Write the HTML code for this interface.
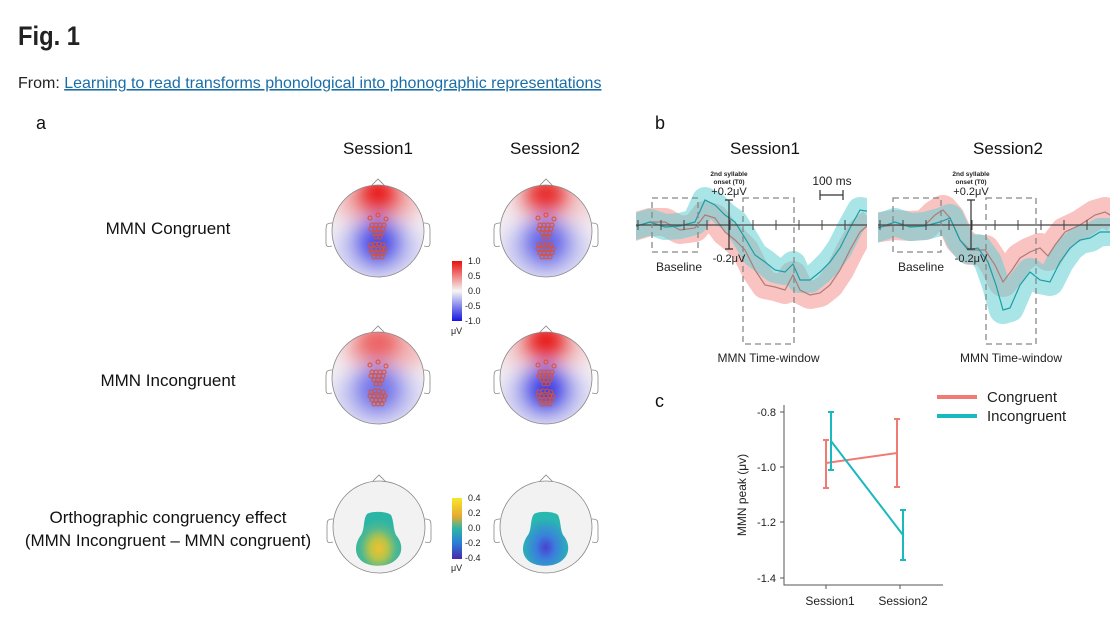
<!DOCTYPE html>
<html><head><meta charset="utf-8"><style>
html,body{margin:0;padding:0;background:#fff;width:1120px;height:624px;overflow:hidden}
text{font-family:"Liberation Sans",sans-serif}
</style></head><body>
<svg id="s" width="1120" height="624" viewBox="0 0 1120 624" xmlns="http://www.w3.org/2000/svg">
<defs>
<filter id="bl" x="-50%" y="-50%" width="200%" height="200%"><feGaussianBlur stdDeviation="9"/></filter>
<radialGradient id="yel" cx="0.5" cy="0.68" r="0.55"><stop offset="0" stop-color="#f0c030"/><stop offset="0.35" stop-color="#b8c448"/><stop offset="0.7" stop-color="#50b890"/><stop offset="1" stop-color="#2ab5a5"/></radialGradient>
<radialGradient id="blu" cx="0.5" cy="0.66" r="0.55"><stop offset="0" stop-color="#4a40d0"/><stop offset="0.4" stop-color="#3a80dc"/><stop offset="1" stop-color="#28b8b0"/></radialGradient>
<linearGradient id="cb1" x1="0" y1="0" x2="0" y2="1"><stop offset="0" stop-color="#e81010"/><stop offset="0.5" stop-color="#f6f6f6"/><stop offset="1" stop-color="#1515e0"/></linearGradient>
<linearGradient id="cb2" x1="0" y1="0" x2="0" y2="1"><stop offset="0" stop-color="#f7e72a"/><stop offset="0.3" stop-color="#e8a830"/><stop offset="0.5" stop-color="#2cb5a6"/><stop offset="0.75" stop-color="#2c7ad8"/><stop offset="1" stop-color="#4a2aa8"/></linearGradient>
<clipPath id="hc"><circle cx="0" cy="0" r="46"/></clipPath>
<clipPath id="c1"><rect x="636" y="150" width="231" height="220"/></clipPath>
<clipPath id="c2"><rect x="878" y="150" width="232" height="220"/></clipPath>
</defs>
<text x="18" y="45" font-size="27" font-weight="bold" fill="#222" textLength="62" lengthAdjust="spacingAndGlyphs">Fig. 1</text>
<text x="18" y="88" font-size="16" fill="#222">From: <tspan fill="#1a6ea8" text-decoration="underline">Learning to read transforms phonological into phonographic representations</tspan></text>
<text x="36" y="129" font-size="18" fill="#111">a</text>
<text x="655" y="129" font-size="18" fill="#111">b</text>
<text x="655" y="407" font-size="18" fill="#111">c</text>
<g font-size="17" fill="#111" text-anchor="middle">
<text x="378" y="154">Session1</text><text x="545" y="154">Session2</text>
<text x="168" y="234">MMN Congruent</text>
<text x="168" y="386">MMN Incongruent</text>
<text x="168" y="523">Orthographic congruency effect</text>
<text x="168" y="546">(MMN Incongruent – MMN congruent)</text>
<text x="765" y="154">Session1</text><text x="1008" y="154">Session2</text>
</g>
<g id="heads"></g>
<rect x="452" y="261" width="10" height="60" fill="url(#cb1)"/>
<g font-size="9" fill="#222"><text x="468" y="264">1.0</text><text x="468" y="279">0.5</text><text x="468" y="294">0.0</text><text x="465" y="309">-0.5</text><text x="465" y="324">-1.0</text><text x="451" y="334">μV</text></g>
<rect x="452" y="498" width="10" height="61" fill="url(#cb2)"/>
<g font-size="9" fill="#222"><text x="468" y="501">0.4</text><text x="468" y="516">0.2</text><text x="468" y="531">0.0</text><text x="465" y="546">-0.2</text><text x="465" y="561">-0.4</text><text x="451" y="571">μV</text></g>
<g id="erp"></g>
<g stroke="#555" stroke-width="1" fill="none">
<path d="M784 405 V585 H943"/>
<path d="M780 412 H784 M780 467 H784 M780 522 H784 M780 578 H784 M826 585 V589 M900 585 V589"/>
</g>
<g font-size="11" fill="#222" text-anchor="end"><text x="776" y="416">-0.8</text><text x="776" y="471">-1.0</text><text x="776" y="526">-1.2</text><text x="776" y="582">-1.4</text></g>
<g font-size="12" fill="#222" text-anchor="middle"><text x="830" y="605">Session1</text><text x="903" y="605">Session2</text></g>
<text transform="translate(746 495) rotate(-90)" font-size="12" fill="#222" text-anchor="middle">MMN peak (μv)</text>
<g stroke="#f07a74" stroke-width="2" fill="none">
<path d="M826 463 L897 453"/><path d="M826 440 V488 M823 440 H829 M823 488 H829 M897 419 V487 M894 419 H900 M894 487 H900"/>
</g>
<g stroke="#1ab8bf" stroke-width="2" fill="none">
<path d="M831 441 L903 535"/><path d="M831 412 V470 M828 412 H834 M828 470 H834 M903 510 V560 M900 510 H906 M900 560 H906"/>
</g>
<path d="M937 397 H977" stroke="#f07a74" stroke-width="4"/>
<path d="M937 416 H977" stroke="#1ab8bf" stroke-width="4"/>
<g font-size="15" fill="#222"><text x="987" y="402">Congruent</text><text x="987" y="421">Incongruent</text></g>
</svg>
<script>
const NS="http://www.w3.org/2000/svg";
function el(p,t,a){const e=document.createElementNS(NS,t);for(const k in a)e.setAttribute(k,a[k]);p.appendChild(e);return e}
const H=document.getElementById('heads');
const elecs=[[0,-16],[-8,-13],[8,-12]];
[[-6,-6],[-2,-6],[2,-6],[6,-6],[-7,-2],[-3,-2],[1,-2],[5,-2],[-4,2],[0,2],[4,2],[-2,6],[2,6]].forEach(p=>elecs.push(p));
[[-7,14],[-3,13],[1,13],[5,14],[-8,18],[-4,18],[0,18],[4,18],[7,18],[-6,22],[-2,22],[2,22],[6,22],[-4,26],[0,26],[4,26]].forEach(p=>elecs.push(p));
function head(cx,cy,type,s){
 const g=el(H,'g',{transform:`translate(${cx} ${cy})`});
 el(g,'path',{d:'M-7 -45 L0 -52 L7 -45',fill:'#fff',stroke:'#888','stroke-width':0.8});
 el(g,'path',{d:'M-46 -8 C-52 -8 -52 -6 -52 0 L-52 12 C-52 16 -50 16 -46 15',fill:'#fff',stroke:'#888','stroke-width':0.8});
 el(g,'path',{d:'M46 -8 C52 -8 52 -6 52 0 L52 12 C52 16 50 16 46 15',fill:'#fff',stroke:'#888','stroke-width':0.8});
 const c=el(g,'g',{'clip-path':'url(#hc)'});
 if(type==='rb'){
  el(c,'rect',{x:-46,y:-46,width:92,height:92,fill:'#f4eef2'});
  const f=el(c,'g',{filter:'url(#bl)'});
  el(f,'ellipse',{cx:s[3]||0,cy:-28,rx:44,ry:22,fill:'#f2b0b0',opacity:s[2]});
  el(f,'ellipse',{cx:0,cy:-36,rx:24,ry:20,fill:'#e81c1c',opacity:s[0]});
  el(f,'ellipse',{cx:0,cy:18,rx:44,ry:32,fill:'#c8c8f2',opacity:0.9});
  el(f,'ellipse',{cx:0,cy:12,rx:24,ry:24,fill:'#3a3ae6',opacity:s[1]});
 } else {
  el(c,'rect',{x:-46,y:-46,width:92,height:92,fill:'#f2f2f2'});
  el(c,'path',{d:'M-12 -13 C-8 -16 8 -16 12 -12 C15 -6 14 2 17 8 C24 16 25 28 14 35 C6 40 -8 40 -16 35 C-26 28 -24 16 -18 8 C-14 2 -16 -8 -12 -13Z',fill:type==='y'?'url(#yel)':'url(#blu)'});
 }
 el(g,'circle',{cx:0,cy:0,r:46,fill:'none',stroke:'#888','stroke-width':0.8});
 if(type==='rb')for(const[x,y]of elecs)el(g,'circle',{cx:x,cy:y,r:2,fill:'none',stroke:'#e0502a','stroke-width':1});
}
head(378,231,'rb',[1,0.85,0.85]);head(546,231,'rb',[0.9,0.7,0.5,8]);
head(378,378,'rb',[0.55,0.6,0.85,8]);head(546,378,'rb',[1,0.95,0.6]);
head(379,527,'y');head(546,527,'b');
const E=document.getElementById('erp');
function pts(a){return 'M'+a.map(p=>p.join(' ')).join(' L')}
function panel(x0,x1,clip,box1,box2,sb,teal,pink,pband,tband){
 const g=el(E,'g',{'clip-path':clip});
 el(g,'path',{d:pts(pink),fill:'none',stroke:'#f7aaa6','stroke-width':pband,'stroke-linejoin':'round',opacity:0.7});
 el(g,'path',{d:pts(teal),fill:'none',stroke:'#62d0d4','stroke-width':tband,'stroke-linejoin':'round',opacity:0.55});
 el(g,'path',{d:pts(pink),fill:'none',stroke:'#b07a78','stroke-width':1.2});
 el(g,'path',{d:pts(teal),fill:'none',stroke:'#1a9ea6','stroke-width':1.2});
 el(E,'path',{d:`M${x0} 225 H${x1}`,stroke:'#444','stroke-width':1.2});
 for(let x=x0+2;x<x1;x+=23)el(E,'path',{d:`M${x} 220 V230`,stroke:'#444','stroke-width':1});
 el(E,'rect',{x:box1[0],y:198,width:box1[1]-box1[0],height:54,fill:'none',stroke:'#888','stroke-dasharray':'6 4','stroke-width':1.3});
 el(E,'rect',{x:box2[0],y:198,width:box2[1]-box2[0],height:146,fill:'none',stroke:'#888','stroke-dasharray':'6 4','stroke-width':1.3});
 el(E,'path',{d:`M${sb} 200 V249 M${sb-4} 200 H${sb+4} M${sb-4} 249 H${sb+4}`,stroke:'#333','stroke-width':1.2});
 const t=(x,y,s,txt,w)=>{const e=el(E,'text',{x:x,y:y,'font-size':s,'text-anchor':'middle',fill:'#222','font-weight':w||'normal'});e.textContent=txt};
 t(sb,176,6.5,'2nd syllable','bold');t(sb,184,6.5,'onset (T0)','bold');
 t(sb,195,11,'+0.2μV');t(sb,262,11,'-0.2μV');
 t((box1[0]+box1[1])/2+4,271,12,'Baseline');
 t((box2[0]+box2[1])/2,362,12,'MMN Time-window');
}
panel(636,867,'url(#c1)',[652,698],[743,794],729,
 [[630,228],[650,222],[665,227],[680,226],[695,222],[705,200],[715,205],[725,215],[735,222],[745,238],[755,255],[765,262],[775,270],[785,272],[793,264],[800,280],[810,280],[820,272],[830,262],[840,248],[850,228],[860,210],[872,212]],
 [[630,228],[650,222],[665,222],[680,230],[695,228],[705,215],[715,218],[725,232],[735,240],[745,250],[755,270],[765,285],[775,287],[785,290],[793,275],[800,290],[810,295],[820,293],[830,285],[840,270],[850,250],[860,232],[872,222]],28,26);
panel(878,1110,'url(#c2)',[893,941],[986,1036],971,
 [[872,230],[895,222],[910,227],[925,226],[940,222],[950,218],[960,240],[968,250],[978,248],[988,262],[996,285],[1003,310],[1010,308],[1020,285],[1030,272],[1040,280],[1050,282],[1060,262],[1070,248],[1080,240],[1090,238],[1100,232],[1115,232]],
 [[872,228],[895,225],[910,226],[925,225],[935,215],[943,210],[950,218],[960,240],[970,250],[985,250],[995,265],[1003,282],[1012,270],[1020,258],[1030,252],[1040,248],[1048,256],[1055,245],[1065,232],[1080,225],[1095,215],[1105,212],[1115,218]],30,28);
el(E,'path',{d:'M820 190 V200 M843 190 V200 M820 195 H843',stroke:'#333','stroke-width':1.2});
const tt=el(E,'text',{x:832,y:185,'font-size':12,'text-anchor':'middle',fill:'#222'});tt.textContent='100 ms';
</script>
</body></html>
